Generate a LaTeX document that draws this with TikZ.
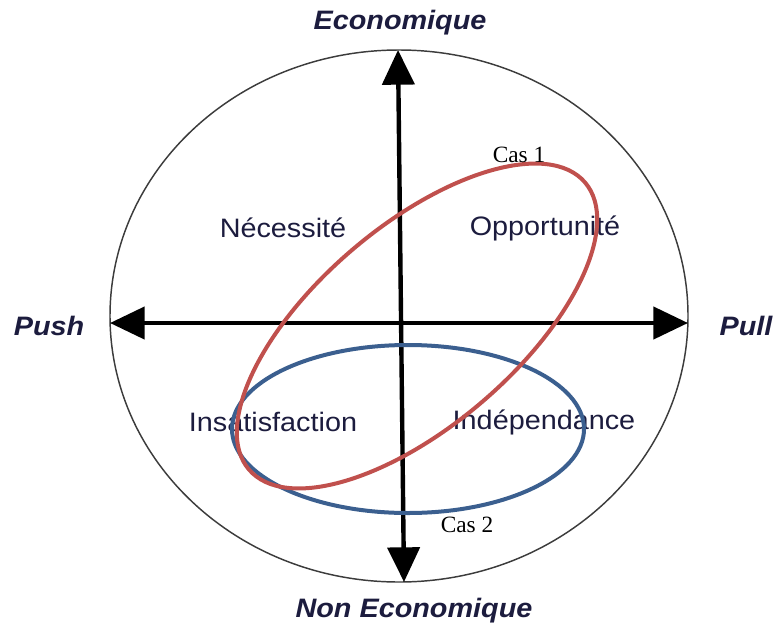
\documentclass[tikz,border=0pt]{standalone}
\usepackage{fontspec}
\setmainfont{Liberation Sans}
\newfontfamily\serifcas{Liberation Serif}
\usetikzlibrary{arrows.meta}
\definecolor{txtc}{RGB}{28,28,62}
\definecolor{redc}{RGB}{192,80,77}
\definecolor{bluec}{RGB}{59,95,143}
\definecolor{circc}{RGB}{60,60,60}
\tikzset{
  axislbl/.style={text=txtc,font=\fontsize{20pt}{24pt}\selectfont\bfseries\itshape,inner sep=0pt},
  quadlbl/.style={text=txtc,font=\fontsize{20pt}{24pt}\selectfont,inner sep=0pt},
  caslbl/.style={text=black,font=\fontsize{17.5pt}{21pt}\selectfont\serifcas,inner sep=0pt},
  axisline/.style={line width=3.3pt,black,{Triangle[length=26pt,width=24pt]}-{Triangle[length=26pt,width=24pt]}},
  outer/.style={line width=1.1pt,circc},
  casone/.style={line width=3pt,redc},
  castwo/.style={line width=3pt,bluec}
}
\begin{document}
\begin{tikzpicture}[x=0.75pt,y=-0.75pt]
\useasboundingbox (0,0) rectangle (777,625);
% outer circle
\draw[outer] (399,316) ellipse [x radius=289, y radius=266];
% axes end points
\coordinate (top) at (398,50);
\coordinate (bot) at (404,582);
\coordinate (lft) at (110,323);
\coordinate (rgt) at (688,323);
\draw[axisline] (top) -- (bot);
\draw[axisline] (lft) -- (rgt);
% axis labels
\node[axislbl] (eco) at (400,23) {\scalebox{1.08}[1]{Economique}};
\node[axislbl] (neco) at (414,611) {\scalebox{1.08}[1]{Non Economique}};
\node[axislbl] (push) at (49,326) {\scalebox{1.08}[1]{Push}};
\node[axislbl] (pull) at (746,326) {\scalebox{1.08}[1]{Pull}};
% quadrant labels
\node[quadlbl] (nec) at (283,228) {\scalebox{1.08}[1]{Nécessité}};
\node[quadlbl] (opp) at (545,228) {\scalebox{1.08}[1]{Opportunité}};
\node[quadlbl] (ins) at (273,422) {\scalebox{1.08}[1]{Insatisfaction}};
\node[quadlbl] (ind) at (544,422) {\scalebox{1.08}[1]{Indépendance}};
% cases
\draw[castwo] (408,429) ellipse [x radius=176, y radius=84];
\draw[casone,rotate around={40.5:(417,326)}] (417,326) ellipse [x radius=221, y radius=100];
\node[caslbl] (c1) at (519,155) {Cas 1};
\node[caslbl] (c2) at (467,525) {Cas 2};
\end{tikzpicture}
\end{document}
